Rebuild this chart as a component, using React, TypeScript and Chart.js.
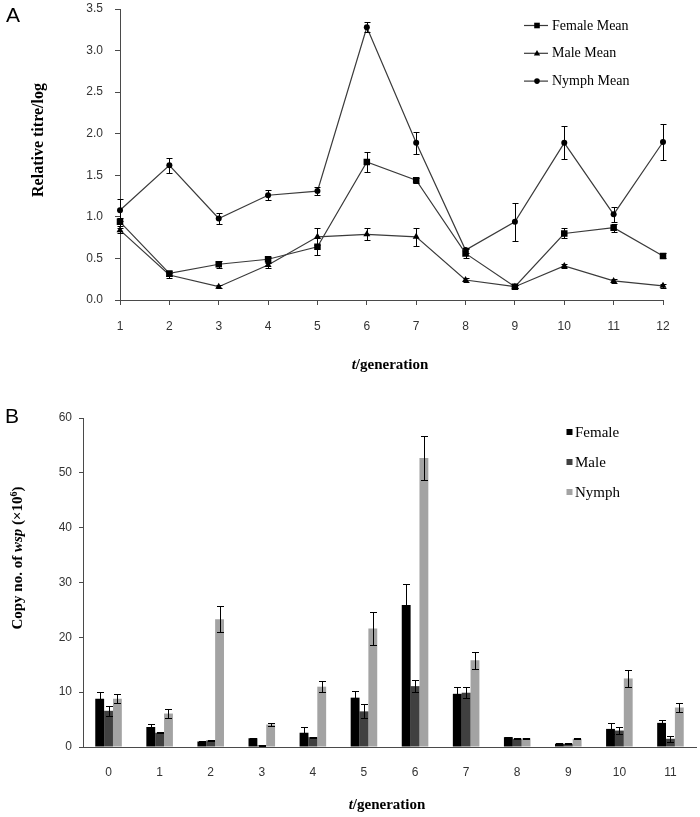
import React, { useEffect, useRef } from 'react';
import { Chart, registerables } from 'chart.js';

Chart.register(...registerables);

// ---------- Panel A data ----------
const generationsA = ['1', '2', '3', '4', '5', '6', '7', '8', '9', '10', '11', '12'];
const femaleMeanA = [0.94, 0.32, 0.43, 0.49, 0.64, 1.66, 1.44, 0.56, 0.16, 0.80, 0.87, 0.53];
const femaleErrA = [0.05, 0.03, 0.04, 0.03, 0.10, 0.12, 0.03, 0.05, 0.02, 0.06, 0.05, 0.03];
const maleMeanA = [0.84, 0.30, 0.16, 0.42, 0.76, 0.79, 0.76, 0.24, 0.16, 0.41, 0.23, 0.17];
const maleErrA = [0.03, 0.03, 0.02, 0.03, 0.10, 0.07, 0.11, 0.02, 0.02, 0.02, 0.02, 0.02];
const nymphMeanA = [1.08, 1.62, 0.98, 1.26, 1.31, 3.28, 1.89, 0.60, 0.94, 1.89, 1.03, 1.90];
const nymphErrA = [0.13, 0.09, 0.07, 0.06, 0.05, 0.06, 0.13, 0.03, 0.23, 0.20, 0.09, 0.22];

// ---------- Panel B data ----------
const generationsB = ['0', '1', '2', '3', '4', '5', '6', '7', '8', '9', '10', '11'];
const femaleB = [8.8, 3.65, 1.0, 1.6, 2.6, 9.0, 25.9, 9.7, 1.8, 0.6, 3.3, 4.4];
const femaleErrB = [1.2, 0.5, 0.1, 0.1, 1.0, 1.3, 3.8, 1.2, 0.1, 0.1, 1.0, 0.5];
const maleB = [6.6, 2.6, 1.2, 0.3, 1.8, 6.5, 11.1, 9.9, 1.5, 0.6, 3.0, 1.5];
const maleErrB = [0.9, 0.1, 0.1, 0.05, 0.1, 1.3, 1.1, 1.0, 0.1, 0.1, 0.6, 0.5];
const nymphB = [8.8, 6.1, 23.3, 4.1, 11.0, 21.6, 52.7, 15.8, 1.6, 1.5, 12.5, 7.2];
const nymphErrB = [0.8, 0.9, 2.4, 0.2, 1.0, 3.0, 4.0, 1.5, 0.1, 0.1, 1.6, 0.8];

const SERIF = '"Liberation Serif", "Times New Roman", serif';
const SANS = '"Liberation Sans", Arial, sans-serif';

type Seg = { text: string; font: string; dy?: number };

function drawRich(ctx: CanvasRenderingContext2D, segs: Seg[], cx: number, cy: number, rot: number) {
  ctx.save();
  ctx.translate(cx, cy);
  ctx.rotate(rot);
  ctx.fillStyle = '#000';
  ctx.textBaseline = 'middle';
  ctx.textAlign = 'left';
  const widths = segs.map((s) => {
    ctx.font = s.font;
    return ctx.measureText(s.text).width;
  });
  const total = widths.reduce((a, b) => a + b, 0);
  let x = -total / 2;
  segs.forEach((s, i) => {
    ctx.font = s.font;
    ctx.fillText(s.text, x, s.dy || 0);
    x += widths[i];
  });
  ctx.restore();
}

function drawMarker(ctx: CanvasRenderingContext2D, style: string, x: number, y: number, r: number) {
  ctx.beginPath();
  if (style === 'rect') {
    ctx.rect(x - r, y - r, 2 * r, 2 * r);
  } else if (style === 'triangle') {
    ctx.moveTo(x, y - r * 1.1);
    ctx.lineTo(x + r * 1.05, y + r * 0.75);
    ctx.lineTo(x - r * 1.05, y + r * 0.75);
    ctx.closePath();
  } else {
    ctx.arc(x, y, r, 0, Math.PI * 2);
  }
  ctx.fill();
}

const errorBarPlugin = {
  id: 'errorBars',
  afterDatasetsDraw(chart: any, _args: any, opts: any) {
    const ctx = chart.ctx;
    const cap = (opts && opts.cap) || 3;
    chart.data.datasets.forEach((ds: any, i: number) => {
      const errs = ds.errorBars;
      if (!errs) return;
      const meta = chart.getDatasetMeta(i);
      const yScale = chart.scales[meta.yAxisID];
      ctx.save();
      ctx.strokeStyle = '#000';
      ctx.lineWidth = 1;
      meta.data.forEach((el: any, j: number) => {
        const v = ds.data[j];
        const e = errs[j];
        const x = Math.round(el.x) + 0.5;
        const yT = Math.round(yScale.getPixelForValue(v + e)) + 0.5;
        const yB = Math.round(yScale.getPixelForValue(Math.max(0, v - e))) + 0.5;
        ctx.beginPath();
        ctx.moveTo(x, yT);
        ctx.lineTo(x, yB);
        ctx.moveTo(x - cap, yT);
        ctx.lineTo(x + cap, yT);
        ctx.moveTo(x - cap, yB);
        ctx.lineTo(x + cap, yB);
        ctx.stroke();
      });
      ctx.restore();
    });
  },
};

const decorA = {
  id: 'decorA',
  afterDraw(chart: any) {
    const ctx = chart.ctx;
    // panel letter
    ctx.save();
    ctx.fillStyle = '#000';
    ctx.font = `21px ${SANS}`;
    ctx.textBaseline = 'middle';
    ctx.textAlign = 'left';
    ctx.fillText('A', 6, 16);
    ctx.restore();
    // legend
    chart.data.datasets.forEach((ds: any, i: number) => {
      const y = 25 + i * 27.8;
      ctx.save();
      ctx.strokeStyle = '#3a3a3a';
      ctx.lineWidth = 1.2;
      ctx.beginPath();
      ctx.moveTo(524, y + 0.5);
      ctx.lineTo(548, y + 0.5);
      ctx.stroke();
      ctx.fillStyle = '#000';
      drawMarker(ctx, ds.pointStyle, 537, y + 0.5, ds.pointStyle === 'rect' ? 2.8 : ds.pointStyle === 'triangle' ? 3 : 2.8);
      ctx.font = `14px ${SERIF}`;
      ctx.textBaseline = 'middle';
      ctx.textAlign = 'left';
      ctx.fillText(ds.label, 552, y + 1);
      ctx.restore();
    });
    // axis titles
    drawRich(ctx, [{ text: 'Relative titre/log', font: `bold 16px ${SERIF}` }], 38.5, 140, -Math.PI / 2);
    drawRich(
      ctx,
      [
        { text: 't', font: `italic bold 15px ${SERIF}` },
        { text: '/generation', font: `bold 15px ${SERIF}` },
      ],
      390,
      365,
      0
    );
  },
};

const decorB = {
  id: 'decorB',
  afterDraw(chart: any) {
    const ctx = chart.ctx;
    ctx.save();
    ctx.fillStyle = '#000';
    ctx.font = `21px ${SANS}`;
    ctx.textBaseline = 'middle';
    ctx.textAlign = 'left';
    ctx.fillText('B', 5, 17);
    ctx.restore();
    chart.data.datasets.forEach((ds: any, i: number) => {
      const y = 32 + i * 30;
      ctx.save();
      ctx.fillStyle = ds.backgroundColor;
      ctx.fillRect(566.5, y - 3, 6, 6);
      ctx.fillStyle = '#000';
      ctx.font = `15px ${SERIF}`;
      ctx.textBaseline = 'middle';
      ctx.textAlign = 'left';
      ctx.fillText(ds.label, 575, y + 1);
      ctx.restore();
    });
    drawRich(
      ctx,
      [
        { text: 'Copy no. of ', font: `bold 15px ${SERIF}` },
        { text: 'wsp', font: `italic bold 15px ${SERIF}` },
        { text: ' (\u00d710', font: `bold 15px ${SERIF}` },
        { text: '6', font: `bold 10px ${SERIF}`, dy: -4 },
        { text: ')', font: `bold 15px ${SERIF}` },
      ],
      18.5,
      158,
      -Math.PI / 2
    );
    drawRich(
      ctx,
      [
        { text: 't', font: `italic bold 15px ${SERIF}` },
        { text: '/generation', font: `bold 15px ${SERIF}` },
      ],
      387,
      405,
      0
    );
  },
};

const AXIS = '#4a4a4a';
const TICK_FONT = { family: SANS, size: 12 };
const TICK_COLOR = '#333';

export default function App() {
  const refA = useRef<HTMLCanvasElement>(null);
  const refB = useRef<HTMLCanvasElement>(null);

  useEffect(() => {
    const lineDs = (label: string, data: number[], errs: number[], style: string, r: number) => ({
      label,
      data,
      errorBars: errs,
      borderColor: '#3a3a3a',
      borderWidth: 1.2,
      pointStyle: style,
      pointRadius: r,
      pointBackgroundColor: '#000',
      pointBorderColor: '#000',
      pointBorderWidth: 0,
      tension: 0,
      fill: false,
    });

    const chartA = new Chart(refA.current as HTMLCanvasElement, {
      type: 'line',
      data: {
        labels: generationsA,
        datasets: [
          lineDs('Female Mean', femaleMeanA, femaleErrA, 'rect', 4.6),
          lineDs('Male Mean', maleMeanA, maleErrA, 'triangle', 4),
          lineDs('Nymph Mean', nymphMeanA, nymphErrA, 'circle', 3),
        ] as any,
      },
      options: {
        responsive: true,
        maintainAspectRatio: false,
        animation: false,
        layout: { padding: { left: 0, right: 37, top: 9, bottom: 0 } },
        plugins: {
          legend: { display: false },
          tooltip: { enabled: false },
          errorBars: { cap: 3 },
        } as any,
        scales: {
          x: {
            offset: false,
            grid: { drawOnChartArea: false, tickLength: 5, color: AXIS },
            border: { color: AXIS, width: 1 },
            ticks: { font: TICK_FONT, color: TICK_COLOR, padding: 14, maxRotation: 0, autoSkip: false },
            afterFit: (s: any) => {
              s.height = 100;
              s.paddingLeft = 0;
              s.paddingRight = 0;
            },
          },
          y: {
            min: 0,
            max: 3.5,
            grid: { drawOnChartArea: false, tickLength: 5, color: AXIS },
            border: { color: AXIS, width: 1 },
            ticks: {
              stepSize: 0.5,
              font: TICK_FONT,
              color: TICK_COLOR,
              padding: 12,
              callback: (v: any) => Number(v).toFixed(1),
            },
            afterFit: (s: any) => {
              s.width = 120;
              s.paddingTop = 0;
              s.paddingBottom = 0;
            },
          },
        } as any,
      },
      plugins: [errorBarPlugin, decorA] as any,
    });

    const barDs = (label: string, data: number[], errs: number[], color: string) => ({
      label,
      data,
      errorBars: errs,
      backgroundColor: color,
      borderWidth: 0,
      barPercentage: 1,
      categoryPercentage: 0.52,
    });

    const chartB = new Chart(refB.current as HTMLCanvasElement, {
      type: 'bar',
      data: {
        labels: generationsB,
        datasets: [
          barDs('Female', femaleB, femaleErrB, '#000000'),
          barDs('Male', maleB, maleErrB, '#404040'),
          barDs('Nymph', nymphB, nymphErrB, '#a3a3a3'),
        ] as any,
      },
      options: {
        responsive: true,
        maintainAspectRatio: false,
        animation: false,
        layout: { padding: { left: 0, right: 4, top: 18, bottom: 0 } },
        plugins: {
          legend: { display: false },
          tooltip: { enabled: false },
          errorBars: { cap: 3.5 },
        } as any,
        scales: {
          x: {
            grid: { display: false, drawTicks: false },
            border: { color: AXIS, width: 1 },
            ticks: { font: TICK_FONT, color: TICK_COLOR, padding: 18, maxRotation: 0, autoSkip: false },
            afterFit: (s: any) => {
              s.height = 70;
              s.paddingLeft = 0;
              s.paddingRight = 0;
            },
          },
          y: {
            min: 0,
            max: 60,
            grid: { drawOnChartArea: false, tickLength: 4, color: AXIS },
            border: { color: AXIS, width: 1 },
            ticks: { stepSize: 10, font: TICK_FONT, color: TICK_COLOR, padding: 7 },
            afterFit: (s: any) => {
              s.width = 83;
              s.paddingTop = 0;
              s.paddingBottom = 0;
            },
          },
        } as any,
      },
      plugins: [errorBarPlugin, decorB] as any,
    });

    return () => {
      chartA.destroy();
      chartB.destroy();
    };
  }, []);

  return (
    <div style={{ position: 'absolute', left: 0, top: 0, width: 700, height: 817, background: '#fff' }}>
      <div style={{ position: 'absolute', left: 0, top: 0, width: 700, height: 400 }}>
        <canvas ref={refA} />
      </div>
      <div style={{ position: 'absolute', left: 0, top: 400, width: 700, height: 417 }}>
        <canvas ref={refB} />
      </div>
    </div>
  );
}
